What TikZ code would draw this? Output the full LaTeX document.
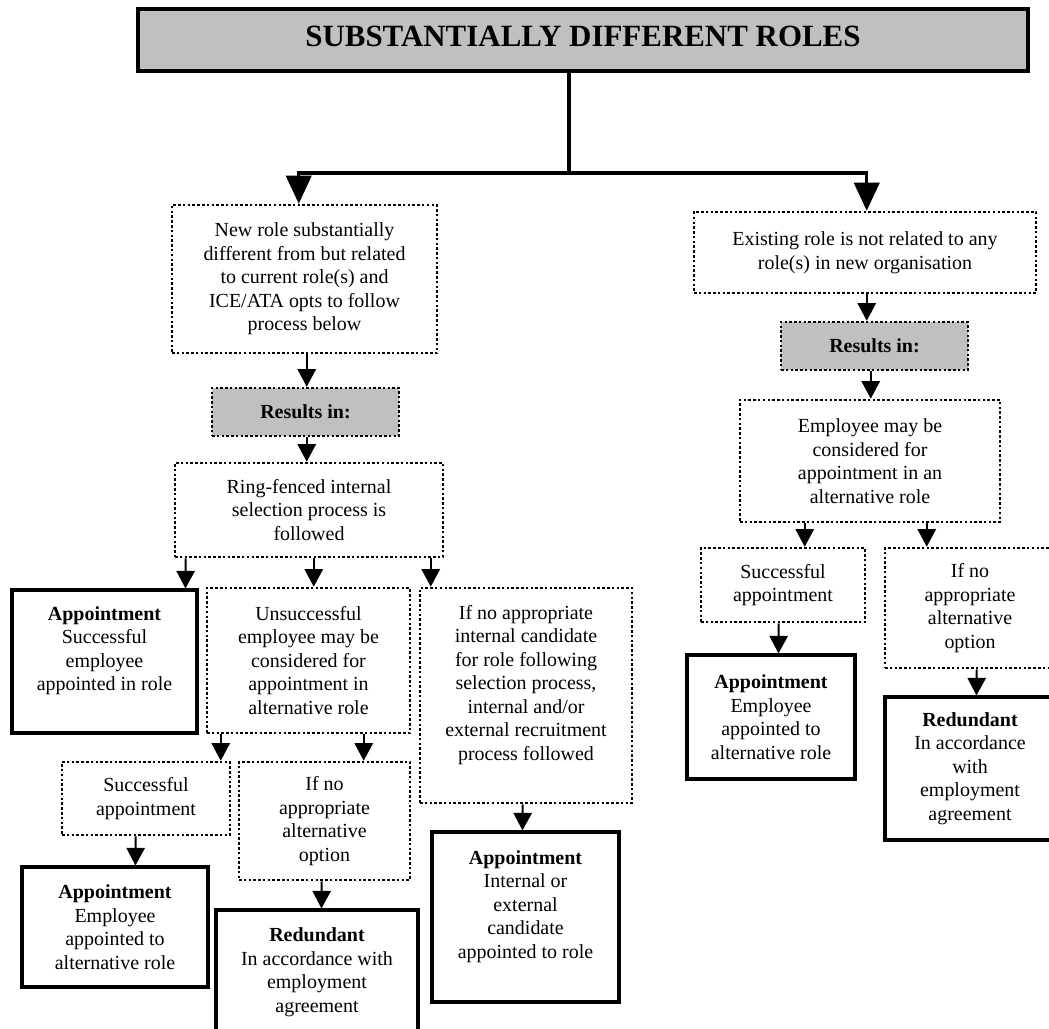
\documentclass[tikz,border=0pt]{standalone}
\usepackage{fontspec}
\setmainfont{Liberation Serif}
\usetikzlibrary{arrows.meta,calc}
\definecolor{boxgray}{HTML}{C0C0C0}
\newdimen\upx \upx=0.025cm

\begin{document}
\begin{tikzpicture}[x=0.025cm,y=-0.025cm,
  every node/.style={align=center,inner sep=0pt,font=\fontsize{14.2}{16.7}\selectfont},%
  db/.style={draw,line width=1.8pt,dash pattern=on 1.8pt off 1.6pt},%
  sb/.style={draw,line width=2.2pt},%
  gr/.style={fill=boxgray},%
  e/.style={-{Triangle[length=12.5pt,width=13pt]},line width=1.4pt},%
  E/.style={-{Triangle[length=20pt,width=18pt]},line width=2.4pt},%
  ]
  \useasboundingbox (0,0) rectangle (1049,1029);
  \node (title) [sb,gr,line width=2.8pt,minimum width=890\upx,minimum height=62\upx,text depth=8\upx,%
    font=\bfseries\fontsize{22}{26}\selectfont] at (583,40) {SUBSTANTIALLY DIFFERENT ROLES};
  % left branch
  \node (newrole) [db,minimum width=265\upx,minimum height=148\upx] at (304.5,279) {New role substantially\\different from but related\\to current role(s) and\\ICE/ATA opts to follow\\process below};
  \node (res1) [db,gr,minimum width=187\upx,minimum height=48\upx] at (305.5,412) {\textbf{Results in:}};
  \node (ring) [db,minimum width=268\upx,minimum height=94\upx] at (309,510) {Ring-fenced internal\\selection process is\\followed};
  \node (ap1) [sb,minimum width=185\upx,minimum height=143\upx] at (104.5,661.5) {\textbf{Appointment}\\Successful\\employee\\appointed in role\\[2\upx]\mbox{}};
  \node (unsu) [db,minimum width=203\upx,minimum height=145\upx] at (308.5,660.5) {Unsuccessful\\employee may be\\considered for\\appointment in\\alternative role};
  \node (ext) [db,minimum width=212\upx,minimum height=215\upx] at (526,695.5) {If no appropriate\\internal candidate\\for role following\\selection process,\\internal and/or\\external recruitment\\process followed\\[2\upx]\mbox{}};
  \node (suc1) [db,minimum width=168\upx,minimum height=73\upx] at (146,798.5) {Successful\\appointment};
  \node (alt1) [db,minimum width=171\upx,minimum height=118\upx] at (324.5,821) {If no\\appropriate\\alternative\\option};
  \node (ap2) [sb,minimum width=186\upx,minimum height=120\upx] at (115,927) {\textbf{Appointment}\\Employee\\appointed to\\alternative role};
  \node (red1) [sb,minimum width=202\upx,minimum height=124\upx] at (317,972) {\textbf{Redundant}\\In accordance with\\employment\\agreement};
  \node (ap3) [sb,minimum width=187\upx,minimum height=170\upx] at (525.5,917) {\textbf{Appointment}\\Internal or\\external\\candidate\\appointed to role\\[2\upx]\mbox{}};
  % right branch
  \node (exist) [db,minimum width=342\upx,minimum height=81\upx] at (865,252.5) {Existing role is not related to any\\role(s) in new organisation};
  \node (res2) [db,gr,minimum width=187\upx,minimum height=48\upx] at (874.5,346) {\textbf{Results in:}};
  \node (emp) [db,minimum width=260\upx,minimum height=122\upx] at (870,461) {Employee may be\\considered for\\appointment in an\\alternative role};
  \node (suc2) [db,minimum width=164\upx,minimum height=74\upx] at (783,585) {Successful\\appointment};
  \node (alt2) [db,minimum width=170\upx,minimum height=120\upx] at (970,608) {If no\\appropriate\\alternative\\option};
  \node (ap4) [sb,minimum width=168\upx,minimum height=124\upx] at (771,717) {\textbf{Appointment}\\Employee\\appointed to\\alternative role};
  \node (red2) [sb,minimum width=170\upx,minimum height=143\upx] at (970,768.5) {\textbf{Redundant}\\In accordance\\with\\employment\\agreement};
  % connectors
  \draw [E] ([xshift=433\upx]title.south west) -- ++(0,100) -| ([xshift=128\upx]newrole.north west);
  \draw [E] ([xshift=433\upx]title.south west) -- ++(0,100) -| ([xshift=174\upx]exist.north west);
  \draw [e] ([xshift=136\upx]newrole.south west) -- ([xshift=96\upx]res1.north west);
  \draw [e] ([xshift=96\upx]res1.south west) -- ([xshift=133\upx]ring.north west);
  \draw [e] ([xshift=12\upx]ring.south west) -- ([xshift=175\upx]ap1.north west);
  \draw [e] ([xshift=140\upx]ring.south west) -- ([xshift=108\upx]unsu.north west);
  \draw [e] ([xshift=257\upx]ring.south west) -- ([xshift=12\upx]ext.north west);
  \draw [e] ([xshift=15\upx]unsu.south west) -- ([xshift=160\upx]suc1.north west);
  \draw [e] ([xshift=158\upx]unsu.south west) -- ([xshift=126\upx]alt1.north west);
  \draw [e] ([xshift=75\upx]suc1.south west) -- ([xshift=115\upx]ap2.north west);
  \draw [e] ([xshift=84\upx]alt1.south west) -- ([xshift=107\upx]red1.north west);
  \draw [e] ([xshift=104\upx]ext.south west) -- ([xshift=92\upx]ap3.north west);
  \draw [e] ([xshift=174\upx]exist.south west) -- ([xshift=87\upx]res2.north west);
  \draw [e] ([xshift=91\upx]res2.south west) -- ([xshift=132\upx]emp.north west);
  \draw [e] ([xshift=66\upx]emp.south west) -- ([xshift=105\upx]suc2.north west);
  \draw [e] ([xshift=188\upx]emp.south west) -- ([xshift=43\upx]alt2.north west);
  \draw [e] ([xshift=79\upx]suc2.south west) -- ([xshift=93\upx]ap4.north west);
  \draw [e] ([xshift=93\upx]alt2.south west) -- ([xshift=93\upx]red2.north west);
\end{tikzpicture}
\end{document}
